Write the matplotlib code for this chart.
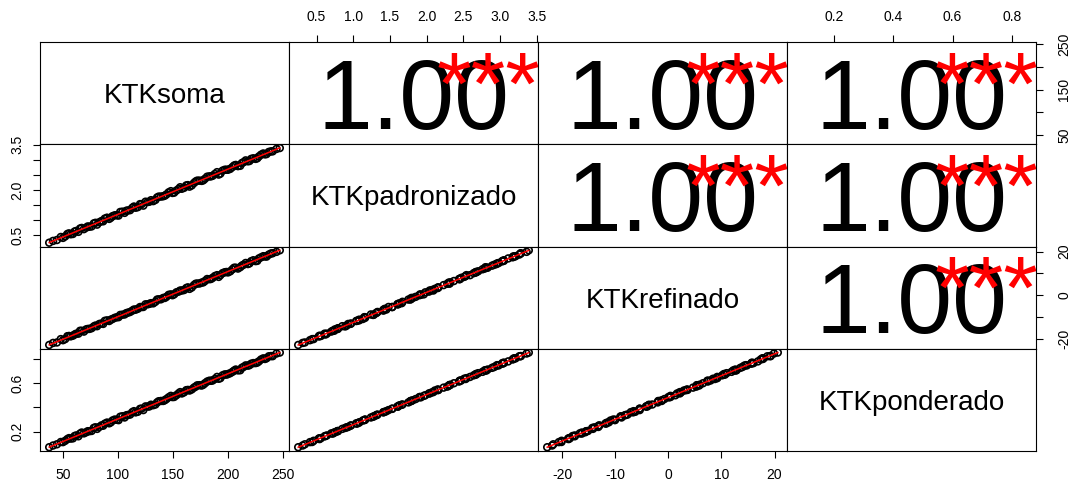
import matplotlib
matplotlib.use("Agg")
import matplotlib.pyplot as plt
import numpy as np

plt.rcParams['font.family'] = ['Liberation Sans', 'DejaVu Sans']
plt.rcParams['axes.unicode_minus'] = False

# --- data -------------------------------------------------------------------
var_names = ["KTKsoma", "KTKpadronizado", "KTKrefinado", "KTKponderado"]

# first block of observations
ktk_soma_a = [37.5, 41, 44.5, 48, 52, 55.5, 59, 62, 65.5, 69, 72.5, 76, 79.5,
              83, 86.5, 90, 93.5, 97, 100.5, 104, 107.5, 111, 114.5, 118,
              121.5, 125, 128.5, 132, 135.5, 139, 142.5, 146, 149.5, 153,
              156.5, 160, 163.5, 167, 170.5, 174, 177.5, 181, 184.5, 188,
              191.5, 195, 198.5, 202, 205.5, 209, 212.5, 216, 219.5, 223,
              226.5, 230, 233.5, 237, 240.5, 244, 247]

ktk_padronizado_a = [0.25, 0.31, 0.34, 0.44, 0.46, 0.56, 0.54, 0.64, 0.72,
                     0.70, 0.79, 0.79, 0.91, 0.93, 0.96, 1.08, 1.08, 1.16,
                     1.15, 1.28, 1.31, 1.33, 1.45, 1.43, 1.53, 1.61, 1.61,
                     1.63, 1.75, 1.78, 1.81, 1.92, 1.90, 1.98, 2.09, 2.07,
                     2.16, 2.15, 2.28, 2.31, 2.32, 2.44, 2.45, 2.53, 2.51,
                     2.64, 2.67, 2.70, 2.81, 2.79, 2.89, 2.98, 2.96, 3.05,
                     3.05, 3.17, 3.18, 3.26, 3.28, 3.36, 3.39]

ktk_refinado_a = [-22.80, -21.87, -21.65, -20.12, -20.10, -18.67, -18.55,
                  -17.62, -16.30, -16.67, -15.45, -15.12, -13.90, -13.17,
                  -13.15, -11.52, -11.20, -10.37, -10.05, -8.92, -8.20, -7.67,
                  -6.55, -6.22, -5.40, -4.17, -3.94, -3.72, -1.99, -1.87,
                  -1.24, 0.18, 0.01, 1.33, 2.16, 2.38, 3.61, 3.53, 5.26, 5.38,
                  5.91, 7.43, 7.46, 8.78, 8.41, 10.13, 10.66, 10.98, 12.61,
                  12.23, 13.56, 14.79, 14.61, 16.04, 15.76, 17.39, 17.81,
                  18.64, 19.26, 19.89, 20.61]

ktk_ponderado_a = [0.071, 0.085, 0.095, 0.114, 0.124, 0.146, 0.144, 0.168,
                   0.183, 0.185, 0.203, 0.205, 0.235, 0.238, 0.248, 0.274,
                   0.276, 0.299, 0.294, 0.326, 0.334, 0.340, 0.368, 0.363,
                   0.389, 0.407, 0.407, 0.417, 0.440, 0.452, 0.458, 0.482,
                   0.484, 0.499, 0.525, 0.523, 0.543, 0.547, 0.570, 0.582,
                   0.586, 0.612, 0.618, 0.633, 0.635, 0.663, 0.669, 0.681,
                   0.702, 0.704, 0.725, 0.745, 0.747, 0.764, 0.768, 0.794,
                   0.798, 0.820, 0.821, 0.843, 0.851]

# second block of observations
ktk_soma_b = [50, 54, 57, 60.5, 64, 67, 71, 74, 78, 81, 85, 88, 92, 95, 99,
              102, 106, 109, 113, 116, 120, 123, 127, 130, 134, 137, 141, 144,
              148, 151, 155, 158, 162, 165, 169, 172, 176, 179, 183, 186, 190,
              193, 197, 200, 204, 207, 211, 214, 218, 221, 225, 228, 232, 235,
              239]

ktk_padronizado_b = [0.41, 0.54, 0.53, 0.62, 0.61, 0.74, 0.75, 0.78, 0.89,
                     0.85, 0.97, 1.05, 1.04, 1.13, 1.16, 1.27, 1.24, 1.32,
                     1.41, 1.41, 1.53, 1.48, 1.60, 1.66, 1.67, 1.78, 1.79,
                     1.85, 1.96, 1.91, 2.03, 2.04, 2.15, 2.11, 2.23, 2.31,
                     2.30, 2.37, 2.45, 2.47, 2.59, 2.54, 2.67, 2.67, 2.76,
                     2.83, 2.80, 2.92, 2.95, 3.03, 3.03, 3.11, 3.21, 3.19,
                     3.28]

ktk_refinado_b = [-20.61, -18.78, -18.86, -18.03, -17.61, -16.29, -15.66,
                  -15.44, -14.31, -14.19, -12.96, -11.74, -11.81, -10.89,
                  -10.06, -9.04, -8.81, -7.99, -7.06, -6.63, -5.41, -5.38,
                  -4.16, -3.63, -3.01, -1.88, -1.25, -0.73, 0.40, 0.42, 1.65,
                  2.17, 3.30, 2.92, 4.65, 5.37, 5.80, 6.52, 7.35, 7.97, 9.20,
                  9.22, 10.55, 10.47, 11.90, 12.62, 12.85, 13.97, 14.30, 15.62,
                  15.65, 16.87, 17.90, 17.72, 19.15]

ktk_ponderado_b = [0.113, 0.138, 0.142, 0.163, 0.161, 0.192, 0.194, 0.203,
                   0.230, 0.222, 0.251, 0.265, 0.268, 0.291, 0.297, 0.322,
                   0.316, 0.337, 0.360, 0.358, 0.387, 0.377, 0.406, 0.421,
                   0.423, 0.450, 0.452, 0.468, 0.494, 0.485, 0.514, 0.514,
                   0.541, 0.538, 0.562, 0.581, 0.579, 0.598, 0.619, 0.621,
                   0.650, 0.640, 0.671, 0.674, 0.692, 0.711, 0.705, 0.732,
                   0.743, 0.759, 0.764, 0.778, 0.803, 0.804, 0.822]

# axis ticks (all tick positions) and the subset labelled on vertical axes
soma_ticks = [50, 100, 150, 200, 250]
padronizado_ticks = [0.5, 1.0, 1.5, 2.0, 2.5, 3.0, 3.5]
refinado_ticks = [-20, -10, 0, 10, 20]
ponderado_ticks = [0.2, 0.4, 0.6, 0.8]

soma_vlabels = [50, 150, 250]
padronizado_vlabels = [0.5, 2.0, 3.5]
refinado_vlabels = [-20, 0, 20]
ponderado_vlabels = [0.2, 0.6]

# --- assembly ---------------------------------------------------------------
series = [np.array(ktk_soma_a + ktk_soma_b),
          np.array(ktk_padronizado_a + ktk_padronizado_b),
          np.array(ktk_refinado_a + ktk_refinado_b),
          np.array(ktk_ponderado_a + ktk_ponderado_b)]
ticks = [soma_ticks, padronizado_ticks, refinado_ticks, ponderado_ticks]
vlabels = [soma_vlabels, padronizado_vlabels, refinado_vlabels, ponderado_vlabels]
fmts = ["{:.0f}", "{:.1f}", "{:.0f}", "{:.1f}"]
nvar = len(series)


def r_limits(v):
    lo, hi = float(np.min(v)), float(np.max(v))
    pad = 0.04 * (hi - lo)
    return lo - pad, hi + pad


def signif_stars(r, n):
    t = abs(r) * np.sqrt((n - 2) / max(1e-12, 1 - r * r))
    if t > 3.4:
        return "***"
    if t > 2.6:
        return "**"
    if t > 1.98:
        return "*"
    if t > 1.66:
        return "."
    return " "


W, H = 1072, 488
fig = plt.figure(figsize=(W / 100, H / 100), dpi=100)
fig.patch.set_facecolor("white")

x0_px, x1_px = 40, 1036
y0_px, y1_px = 42, 451
pw = (x1_px - x0_px) / nvar
ph = (y1_px - y0_px) / nvar

num_fs = 71      # correlation number size (pt)
star_fs = 64
name_fs = 20
tick_fs = 10

for i in range(nvar):          # rows
    for j in range(nvar):      # cols
        left = (x0_px + j * pw) / W
        bottom = 1 - (y0_px + (i + 1) * ph) / H
        ax = fig.add_axes([left, bottom, pw / W, ph / H])
        ax.set_xlim(*r_limits(series[j]))
        ax.set_ylim(*r_limits(series[i]))
        for s in ax.spines.values():
            s.set_linewidth(0.8)
            s.set_color("black")
        ax.tick_params(which="both", bottom=False, top=False, left=False,
                       right=False, labelbottom=False, labeltop=False,
                       labelleft=False, labelright=False)

        if i > j:
            x, y = series[j], series[i]
            ax.scatter(x, y, s=24, facecolors="none", edgecolors="black",
                       linewidths=1.2, zorder=2)
            coef = np.polyfit(x, y, 1)
            xs = np.array([x.min(), x.max()])
            ax.plot(xs, np.polyval(coef, xs), color="red", lw=1.1, zorder=3)
        elif i < j:
            r = np.corrcoef(series[i], series[j])[0, 1]
            txt = f"{abs(r):.2f}"
            ax.text(0.5, 0.15, txt,
                    transform=ax.transAxes, ha="center", va="baseline",
                    fontsize=num_fs, color="black", clip_on=True)
            ax.text(0.8, 0.30, signif_stars(r, len(series[i])),
                    transform=ax.transAxes, ha="center", va="baseline",
                    fontsize=star_fs, color="red", clip_on=True)
        else:
            ax.text(0.5, 0.47, var_names[i], transform=ax.transAxes,
                    ha="center", va="center", fontsize=name_fs)

        tick_kw = dict(length=5.2, width=0.8, color="black",
                       labelsize=tick_fs, labelcolor="black")

        # horizontal outer axes
        if i == nvar - 1 and j % 2 == 0:
            ax.set_xticks(ticks[j])
            ax.set_xticklabels([fmts[j].format(v) for v in ticks[j]])
            ax.tick_params(axis="x", bottom=True, labelbottom=True, pad=7,
                           **tick_kw)
        if i == 0 and j % 2 == 1:
            ax.set_xticks(ticks[j])
            ax.set_xticklabels([fmts[j].format(v) for v in ticks[j]])
            ax.tick_params(axis="x", top=True, labeltop=True, pad=8,
                           **tick_kw)

        # vertical outer axes
        if j == 0 and i % 2 == 1:
            ax.set_yticks(ticks[i])
            ax.set_yticklabels([fmts[i].format(v) if v in vlabels[i] else ""
                                for v in ticks[i]])
            ax.tick_params(axis="y", left=True, labelleft=True, pad=6,
                           labelrotation=90, **tick_kw)
            for lab in ax.get_yticklabels():
                lab.set_va("center")
        if j == nvar - 1 and i % 2 == 0:
            ax.set_yticks(ticks[i])
            ax.set_yticklabels([fmts[i].format(v) if v in vlabels[i] else ""
                                for v in ticks[i]])
            ax.tick_params(axis="y", right=True, labelright=True, pad=10,
                           labelrotation=90, **tick_kw)
            for lab in ax.get_yticklabels():
                lab.set_va("center")

fig.savefig("out.png", dpi=100, facecolor="white")
